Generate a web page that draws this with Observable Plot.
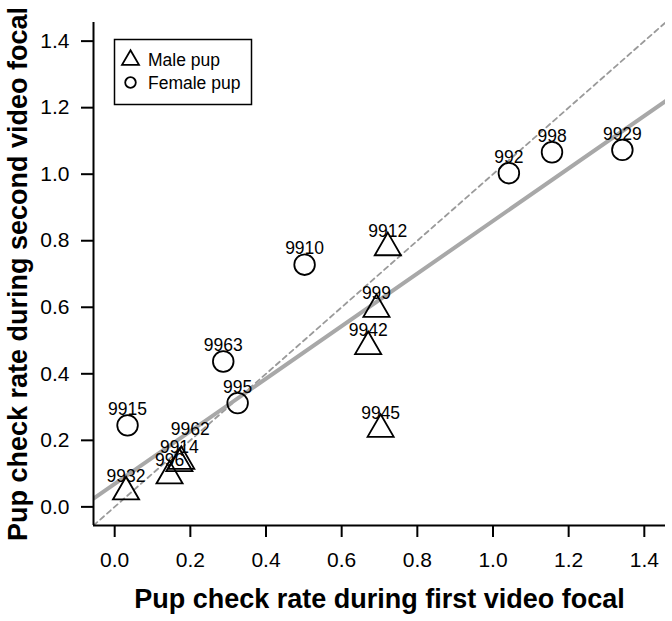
<!DOCTYPE html>
<html><head><meta charset="utf-8">
<script src="https://cdn.jsdelivr.net/npm/d3@7"></script>
<script src="https://cdn.jsdelivr.net/npm/@observablehq/plot@0.6"></script>
<style>
body{margin:0;background:#fff}
svg{font-family:Arial,"Liberation Sans",sans-serif}
</style>
</head><body><div id="chart"></div>
<script>
// Data
const ids        = ["9932","996","9914","9962","9915","995","9963","9910","9942","999","9912","9945","992","998","9929"];
const sex        = ["Male","Male","Male","Male","Female","Female","Female","Female","Male","Male","Male","Male","Female","Female","Female"];
const firstRate  = [0.030,0.145,0.171,0.176,0.034,0.325,0.287,0.502,0.670,0.692,0.722,0.703,1.042,1.156,1.342];
const secondRate = [0.045,0.093,0.130,0.137,0.245,0.312,0.437,0.728,0.482,0.594,0.779,0.233,1.003,1.066,1.073];
const axisTicks  = [0,0.2,0.4,0.6,0.8,1.0,1.2,1.4];
const axisLimits = [0,1.4];
const legendLabels = ["Male pup","Female pup"];
const xTitle = "Pup check rate during first video focal";
const yTitle = "Pup check rate during second video focal";
const raisedLabels = ["9962"]; // label lifted above a neighbouring label in the original

const rows = ids.map((id,i)=>({id, sex:sex[i], x:firstRate[i], y:secondRate[i]}));
const pad = 0.04*(axisLimits[1]-axisLimits[0]);
const dom = [axisLimits[0]-pad, axisLimits[1]+pad];

// least-squares fit
const mx = d3.mean(rows,d=>d.x), my = d3.mean(rows,d=>d.y);
const b = d3.sum(rows,d=>(d.x-mx)*(d.y-my))/d3.sum(rows,d=>(d.x-mx)**2);
const a = my - b*mx;
const fit = dom.map(x=>({x, y:a+b*x}));
const ident = dom.map(x=>({x, y:x}));

const chart = Plot.plot({
  width:672, height:621,
  marginLeft:93, marginRight:7, marginTop:22, marginBottom:96,
  x:{domain:dom}, y:{domain:dom},
  style:{fontFamily:"Arial, 'Liberation Sans', sans-serif", color:"black", background:"white"},
  marks:[
    Plot.line(ident,{x:"x",y:"y",stroke:"#9a9a9a",strokeWidth:1.8,strokeDasharray:"5,4",clip:"frame"}),
    Plot.line(fit,{x:"x",y:"y",stroke:"#a8a8a8",strokeWidth:4,clip:"frame"}),
    Plot.ruleX([dom[0]],{stroke:"black",strokeWidth:2}),
    Plot.ruleY([dom[0]],{stroke:"black",strokeWidth:2}),
    Plot.axisX({ticks:axisTicks,tickFormat:d3.format(".1f"),tickSize:12,tickPadding:15,fontSize:21,strokeWidth:2,label:null}),
    Plot.axisY({ticks:axisTicks,tickFormat:d3.format(".1f"),tickSize:12,tickPadding:12,fontSize:21,strokeWidth:2,label:null}),
    Plot.dot(rows.filter(d=>d.sex==="Male"),{x:"x",y:"y",symbol:"triangle",r:9.7,stroke:"black",strokeWidth:1.8,fill:"none"}),
    Plot.dot(rows.filter(d=>d.sex==="Female"),{x:"x",y:"y",symbol:"circle",r:10.3,stroke:"black",strokeWidth:1.8,fill:"none"}),
    Plot.text(rows.filter(d=>!raisedLabels.includes(d.id)),{x:"x",y:"y",text:"id",dy:-16,fontSize:17.5,fill:"black"}),
    Plot.text(rows.filter(d=>raisedLabels.includes(d.id)),{x:"x",y:"y",text:"id",dy:-32,dx:9,fontSize:17.5,fill:"black"}),
    Plot.text([xTitle],{frameAnchor:"bottom",dy:82,fontSize:27,fontWeight:"bold",fill:"black"}),
    Plot.text([yTitle],{frameAnchor:"left",textAnchor:"middle",dx:-75,rotate:-90,fontSize:27,fontWeight:"bold",fill:"black"})
  ]
});
document.getElementById("chart").appendChild(chart);

// legend box inside plot
const svg = d3.select(chart);
const g = svg.append("g");
g.append("rect").attr("x",114.5).attr("y",39.5).attr("width",137).attr("height",65)
  .attr("fill","white").attr("stroke","black").attr("stroke-width",1.5);
const syms = [d3.symbolTriangle, d3.symbolCircle];
const sizes = [Math.PI*6.3*6.3, Math.PI*5.3*5.3];
legendLabels.forEach((lab,i)=>{
  const cy = 60 + i*22.5;
  g.append("path").attr("d",d3.symbol(syms[i],sizes[i])())
    .attr("transform",`translate(130.5,${cy})`).attr("fill","none").attr("stroke","black").attr("stroke-width",1.8);
  g.append("text").attr("x",148).attr("y",cy+1.5).attr("dominant-baseline","middle")
    .attr("text-anchor","start").attr("font-size",17.5).attr("fill","black").text(lab);
});
</script>
</body></html>
